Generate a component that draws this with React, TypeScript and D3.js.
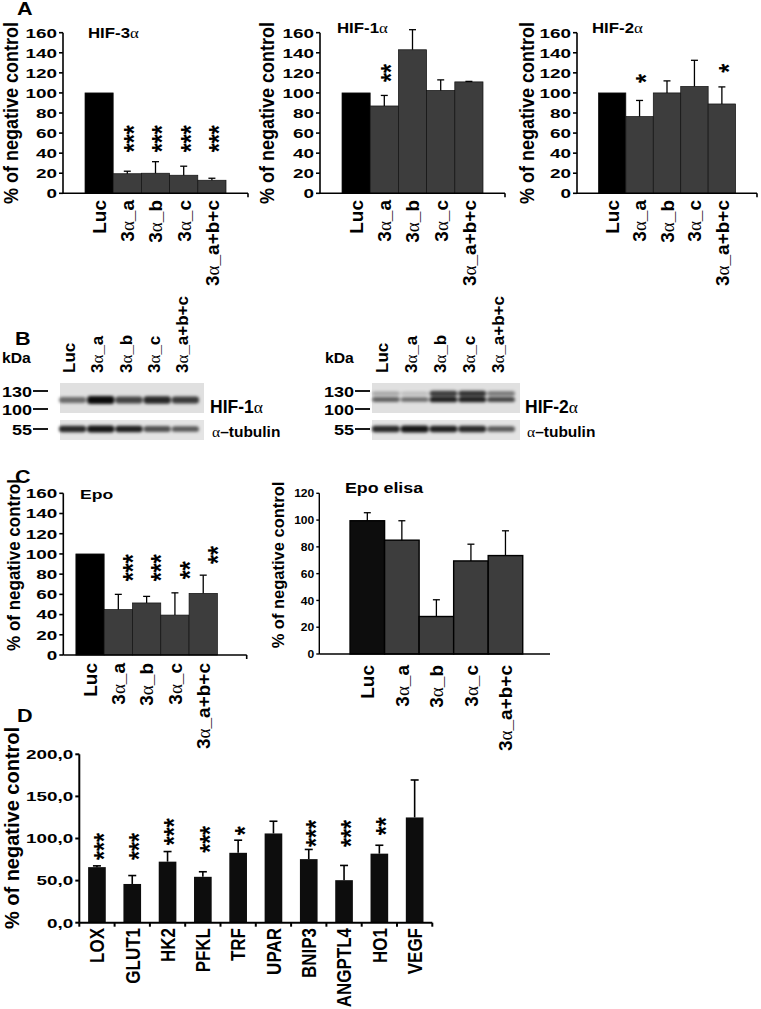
import React from "react";
import * as d3 from "d3";

const FONT = "'Liberation Sans', Arial, Helvetica, sans-serif";

// ---------- DATA ----------
const catsA = ["Luc", "3α_a", "3α_b", "3α_c", "3α_a+b+c"];
const ticksA = [0, 20, 40, 60, 80, 100, 120, 140, 160];

const hif3Mean = [100, 19.5, 20, 18, 13];
const hif3Err = [0, 2.5, 11.5, 9, 2];
const hif3Stars = ["", "***", "***", "***", "***"];
const hif3StarAt = [0, 41, 41, 41, 41];

const hif1Mean = [100, 87, 143, 102.5, 111];
const hif1Err = [0, 10.5, 20, 10.5, 0.5];
const hif1Stars = ["", "**", "", "", ""];
const hif1StarAt = [0, 111, 0, 0, 0];

const hif2Mean = [100, 76.5, 100, 106.5, 89];
const hif2Err = [0, 16, 12, 26, 17];
const hif2Stars = ["", "*", "", "", "*"];
const hif2StarAt = [0, 110, 0, 0, 120];

const epoMean = [100, 45, 51.5, 39.5, 61];
const epoErr = [0, 15, 6.5, 22, 18];
const epoStars = ["", "***", "***", "**", "**"];
const epoStarAt = [0, 73, 73, 75, 90];

const ticksElisa = [0, 20, 40, 60, 80, 100, 120];
const elisaMean = [99.5, 85, 28, 69.5, 73.5];
const elisaErr = [6, 14.5, 12.5, 12.5, 18.5];

const genes = ["LOX", "GLUT1", "HK2", "PFKL", "TRF", "UPAR", "BNIP3", "ANGPTL4", "HO1", "VEGF"];
const ticksD = [0, 50, 100, 150, 200];
const geneMean = [66, 46, 72.5, 54.5, 83, 106, 75.5, 50.5, 82, 125];
const geneErr = [1.5, 10, 12, 6, 15, 14.5, 11.5, 17.5, 10, 44.5];
const geneStars = ["***", "***", "***", "***", "*", "", "***", "***", "**", ""];
const geneStarAt = [74.5, 74.5, 92, 83, 104, 0, 90, 90, 104, 0];

// western blot band intensities (0..1) per lane
const kDaMarks = ["130", "100", "55"];
const hif1Band = [0.5, 1, 0.7, 0.85, 0.75];
const tub1Band = [0.85, 0.95, 0.9, 0.65, 0.6];
const hif2Lower = [0.55, 0.5, 0.9, 0.9, 0.7];
const hif2Upper = [0.2, 0.08, 0.75, 0.8, 0.45];
const tub2Band = [0.85, 0.95, 0.9, 0.85, 0.6];

// ---------- helpers ----------
function Txt({ x, y, sx = 1, rot = 0, size, anchor = "start", weight = "bold", children, fill = "#000" }: any) {
  return (
    <text
      transform={`translate(${x},${y}) scale(${sx},1)${rot ? ` rotate(${rot})` : ""}`}
      fontSize={size}
      textAnchor={anchor}
      fontWeight={weight}
      fill={fill}
      fontFamily={FONT}
    >
      {children}
    </text>
  );
}

function withAlpha(s: string) {
  const parts = s.split("α");
  const out: any[] = [];
  parts.forEach((p, i) => {
    if (i > 0)
      out.push(
        <tspan key={"a" + i} fontWeight="normal" fontFamily="'Liberation Serif', serif">
          α
        </tspan>
      );
    if (p) out.push(<tspan key={"p" + i}>{p}</tspan>);
  });
  return out;
}

function Stars({ cx, baseY, s, size = 23, sx = 1.2 }: any) {
  return (
    <Txt x={cx + 0.575 * size * sx} y={baseY} rot={-90} size={size} sx={sx} anchor="start">
      {s}
    </Txt>
  );
}

function BarChart(p: any) {
  const {
    x0, x1, y0, y1, max, ticks, fmt = (d: number) => String(d), cats, mean, err, stars, starAt,
    padInner = 0, padOuter, align = 0.5, fillFn, barStroke, barStrokeW = 1, tickFont, tickSx = 1,
    capW = 7, endTick = false, starDx = 0, axisW = 1.6, tickLen = 4, xTicksBetween = false, errW = 1.3,
  } = p;
  const x = d3.scaleBand().domain(cats).range([x0, x1]).paddingInner(padInner).paddingOuter(padOuter).align(align);
  const y = d3.scaleLinear().domain([0, max]).range([y0, y1]);
  const bw = x.bandwidth();
  return (
    <g>
      {cats.map((c: string, i: number) => (
        <rect key={"b" + c} x={x(c)} y={y(mean[i])} width={bw} height={y0 - y(mean[i])}
          fill={fillFn(i)} stroke={barStroke} strokeWidth={barStroke ? barStrokeW : 0} />
      ))}
      {cats.map((c: string, i: number) => {
        if (!err[i]) return null;
        const cx = (x(c) as number) + bw / 2;
        return (
          <g key={"e" + c} stroke="#000" strokeWidth={errW}>
            <line x1={cx} x2={cx} y1={y(mean[i])} y2={y(mean[i] + err[i])} />
            <line x1={cx - capW / 2} x2={cx + capW / 2} y1={y(mean[i] + err[i])} y2={y(mean[i] + err[i])} />
          </g>
        );
      })}
      {cats.map((c: string, i: number) =>
        stars && stars[i] ? (
          <Stars key={"s" + c} cx={(x(c) as number) + bw / 2 + starDx} baseY={y(starAt[i])} s={stars[i]} />
        ) : null
      )}
      <line x1={x0} x2={x0} y1={y0} y2={y(max)} stroke="#000" strokeWidth={axisW} />
      <line x1={x0} x2={x1} y1={y0} y2={y0} stroke="#000" strokeWidth={axisW} />
      {endTick && <line x1={x1} x2={x1} y1={y0} y2={y0 + 4} stroke="#000" strokeWidth={axisW} />}
      {xTicksBetween &&
        d3.range(cats.length + 1).map((k) => {
          const xx = x0 + k * x.step();
          return <line key={"xt" + k} x1={xx} x2={xx} y1={y0} y2={y0 + 4} stroke="#000" strokeWidth={axisW} />;
        })}
      {ticks.map((t: number) => (
        <g key={"t" + t}>
          <line x1={x0 - tickLen} x2={x0} y1={y(t)} y2={y(t)} stroke="#000" strokeWidth={axisW} />
          <Txt x={x0 - tickLen - 2} y={y(t) + 0.36 * tickFont} sx={tickSx} size={tickFont} anchor="end">
            {fmt(t)}
          </Txt>
        </g>
      ))}
    </g>
  );
}

function XLabels({ x0, x1, cats, padInner = 0, padOuter, align = 0.5, yEnd, size, sx = 1, dx = 0 }: any) {
  const x = d3.scaleBand().domain(cats).range([x0, x1]).paddingInner(padInner).paddingOuter(padOuter).align(align);
  return (
    <g>
      {cats.map((c: string) => (
        <Txt key={c} x={(x(c) as number) + x.bandwidth() / 2 + 0.36 * size * sx + dx} y={yEnd} rot={-90} sx={sx} size={size} anchor="end">
          {withAlpha(c)}
        </Txt>
      ))}
    </g>
  );
}

function Blot({ x0, x1, lx0, lx1, top, bottom, bg, bands }: any) {
  const lanes = d3.scaleBand().domain(catsA).range([lx0, lx1]);
  return (
    <g>
      <rect x={x0} y={top} width={x1 - x0} height={bottom - top} fill={bg} />
      <g filter="url(#blur)">
        {bands.map((b: any, bi: number) =>
          catsA.map((c, i) => (
            <rect key={bi + "-" + c} x={(lanes(c) as number) + 1} y={b.cy - (b.h * (0.55 + 0.45 * b.v[i])) / 2}
              width={lanes.bandwidth() - 1} height={b.h * (0.55 + 0.45 * b.v[i])} rx={3}
              fill="#000" opacity={0.1 + 0.85 * b.v[i]} />
          ))
        )}
      </g>
    </g>
  );
}

export default function App() {
  const grayFill = (i: number) => (i === 0 ? "#000" : "#3d3d3d");
  const chartsA = [
    { x0: 63, x1: 248, mean: hif3Mean, err: hif3Err, stars: hif3Stars, starAt: hif3StarAt, title: "HIF-3α", tx: 88, ty: 38, yt: 18 },
    { x0: 320, x1: 505, mean: hif1Mean, err: hif1Err, stars: hif1Stars, starAt: hif1StarAt, title: "HIF-1α", tx: 337, ty: 33, yt: 274 },
    { x0: 577, x1: 757, mean: hif2Mean, err: hif2Err, stars: hif2Stars, starAt: hif2StarAt, title: "HIF-2α", tx: 592, ty: 33, yt: 534 },
  ];
  const fmtD = (d: number) => d3.format(".1f")(d).replace(".", ",");
  return (
    <svg width={761} height={1009} style={{ position: "absolute", left: 0, top: 0, background: "#fff" }} fontFamily={FONT}>
      <defs>
        <filter id="blur" x="-20%" y="-80%" width="140%" height="260%">
          <feGaussianBlur stdDeviation="1.5" />
        </filter>
      </defs>
      <rect width={761} height={1009} fill="#fff" />

      {/* ---------- Panel A ---------- */}
      <Txt x={17} y={15} size={18} sx={1.2}>A</Txt>
      {chartsA.map((c) => (
        <g key={c.title}>
          <BarChart x0={c.x0} x1={c.x1} y0={193.3} y1={32.7} max={160} ticks={ticksA} cats={catsA}
            mean={c.mean} err={c.err} stars={c.stars} starAt={c.starAt} padOuter={0.78}
            fillFn={grayFill} barStroke="#111" barStrokeW={0.7} tickFont={13.5} tickSx={1.4} endTick />
          <XLabels x0={c.x0} x1={c.x1} cats={catsA} padOuter={0.78} yEnd={200} size={19} />
          <Txt x={c.tx} y={c.ty} size={14} sx={1.2}>{withAlpha(c.title)}</Txt>
          <Txt x={c.yt} y={113} size={18} sx={1.1} rot={-90} anchor="middle">% of negative control</Txt>
        </g>
      ))}

      {/* ---------- Panel B ---------- */}
      <Txt x={15} y={345} size={18} sx={1.2}>B</Txt>
      {[{ kx: 2, mx: 48, lx0: 58, lx1: 199, bx0: 60, bx1: 204, label: "HIF-1α", lab: 210, main: [{ cy: 400, h: 8, v: hif1Band }], tub: tub1Band },
        { kx: 325, mx: 370, lx0: 371, lx1: 515, bx0: 372, bx1: 520, label: "HIF-2α", lab: 525, main: [{ cy: 393.5, h: 6, v: hif2Upper }, { cy: 399.5, h: 6, v: hif2Lower }], tub: tub2Band }].map((b) => (
        <g key={b.label}>
          <Txt x={b.kx} y={363} size={15} sx={1.05}>kDa</Txt>
          {catsA.map((c, i) => {
            const lanes = d3.scaleBand().domain(catsA).range([b.lx0, b.lx1]);
            return (
              <Txt key={c} x={(lanes(c) as number) + lanes.bandwidth() / 2 + 3} y={373} rot={-90} size={17}>
                {withAlpha(c)}
              </Txt>
            );
          })}
          <Blot x0={b.bx0} x1={b.bx1} lx0={b.lx0} lx1={b.lx1} top={383} bottom={413} bg="#e0e0e0" bands={b.main} />
          <Blot x0={b.bx0} x1={b.bx1} lx0={b.lx0} lx1={b.lx1} top={420} bottom={440} bg="#e4e4e4" bands={[{ cy: 429, h: 7, v: b.tub }]} />
          {kDaMarks.map((m, i) => {
            const yy = [391, 409, 429][i];
            return (
              <g key={m}>
                <line x1={b.mx - 15} x2={b.mx} y1={yy} y2={yy} stroke="#000" strokeWidth={1.8} />
                <Txt x={b.mx - 16} y={yy + 6} size={15} sx={1.2} anchor="end">{m}</Txt>
              </g>
            );
          })}
          <Txt x={b.lab} y={413} size={17.5}>{withAlpha(b.label)}</Txt>
          <Txt x={b.lab + 2} y={437} size={15.5}>{withAlpha("α–tubulin")}</Txt>
        </g>
      ))}

      {/* ---------- Panel C ---------- */}
      <Txt x={15} y={483} size={18} sx={1.2}>C</Txt>
      <BarChart x0={63.3} x1={246.7} y0={655} y1={493.3} max={160} ticks={ticksA} cats={catsA}
        mean={epoMean} err={epoErr} stars={epoStars} starAt={epoStarAt} padOuter={0.74} align={0.3}
        fillFn={grayFill} barStroke="#111" barStrokeW={0.7} tickFont={13.5} tickSx={1.4} endTick starDx={8} />
      <XLabels x0={63.3} x1={246.7} cats={catsA} padOuter={0.74} align={0.3} yEnd={663} size={19} />
      <Txt x={80} y={499} size={13.5} sx={1.3}>Epo</Txt>
      <Txt x={20} y={565} size={17} sx={1.1} rot={-90} anchor="middle">% of negative control</Txt>

      <BarChart x0={319.3} x1={550} y0={654} y1={493.3} max={120} ticks={ticksElisa} cats={catsA}
        mean={elisaMean} err={elisaErr} padOuter={0.84} align={0.53}
        fillFn={(i: number) => (i === 0 ? "#0d0d0d" : "#3d3d3d")} barStroke="#000" barStrokeW={1.4}
        tickFont={11.5} tickSx={1.05} tickLen={3} axisW={1.4} />
      <XLabels x0={319.3} x1={550} cats={catsA} padOuter={0.84} align={0.53} yEnd={665} size={19} />
      <Txt x={345} y={493} size={14} sx={1.27}>Epo elisa</Txt>
      <Txt x={284} y={565} size={16.5} sx={1.05} rot={-90} anchor="middle">% of negative control</Txt>

      {/* ---------- Panel D ---------- */}
      <Txt x={17} y={722} size={18} sx={1.2}>D</Txt>
      <BarChart x0={79.3} x1={432.3} y0={922.7} y1={754.3} max={200} ticks={ticksD} fmt={fmtD} cats={genes}
        mean={geneMean} err={geneErr} stars={geneStars} starAt={geneStarAt} padInner={0.5} padOuter={0.25}
        fillFn={() => "#0d0d0d"} tickFont={13.5} tickSx={1.4} capW={8} axisW={2} xTicksBetween errW={1.6} />
      <XLabels x0={79.3} x1={432.3} cats={genes} padInner={0.5} padOuter={0.25} yEnd={928} size={17} sx={1.2} />
      <Txt x={19} y={828} size={20} sx={1.05} rot={-90} anchor="middle">% of negative control</Txt>
    </svg>
  );
}
